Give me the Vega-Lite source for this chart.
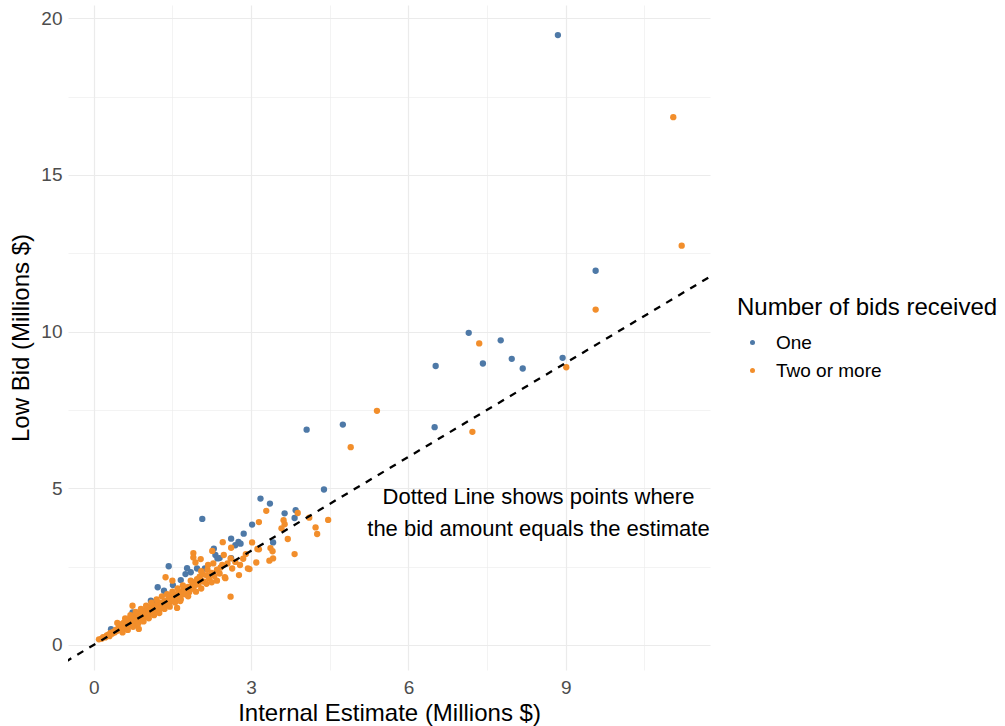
{
  "$schema": "https://vega.github.io/schema/vega-lite/v6.json",
  "width": 642,
  "height": 665,
  "autosize": {"type": "none"},
  "padding": {"left": 68, "top": 5, "right": 295, "bottom": 56},
  "background": "white",
  "config": {
    "view": {"stroke": null},
    "font": "Liberation Sans",
    "axis": {
      "labelFont": "Liberation Sans",
      "titleFont": "Liberation Sans",
      "labelColor": "#4d4d4d",
      "labelFontSize": 19,
      "titleFontSize": 24,
      "titleColor": "#000000",
      "titleFontWeight": "normal",
      "domain": false,
      "ticks": false,
      "gridColor": "#ebebeb"
    },
    "legend": {
      "titleFont": "Liberation Sans",
      "labelFont": "Liberation Sans"
    }
  },
  "datasets": {
    "bids": [
      {"estimate": 8.85, "lowbid": 19.46, "bids": "One"},
      {"estimate": 9.57, "lowbid": 11.94, "bids": "One"},
      {"estimate": 8.94, "lowbid": 9.16, "bids": "One"},
      {"estimate": 8.18, "lowbid": 8.82, "bids": "One"},
      {"estimate": 7.15, "lowbid": 9.96, "bids": "One"},
      {"estimate": 7.76, "lowbid": 9.72, "bids": "One"},
      {"estimate": 7.42, "lowbid": 8.98, "bids": "One"},
      {"estimate": 7.97, "lowbid": 9.13, "bids": "One"},
      {"estimate": 6.52, "lowbid": 8.9, "bids": "One"},
      {"estimate": 6.5, "lowbid": 6.95, "bids": "One"},
      {"estimate": 4.06, "lowbid": 6.87, "bids": "One"},
      {"estimate": 4.75, "lowbid": 7.03, "bids": "One"},
      {"estimate": 4.39, "lowbid": 4.96, "bids": "One"},
      {"estimate": 3.18, "lowbid": 4.67, "bids": "One"},
      {"estimate": 3.36, "lowbid": 4.51, "bids": "One"},
      {"estimate": 3.64, "lowbid": 4.2, "bids": "One"},
      {"estimate": 3.85, "lowbid": 4.3, "bids": "One"},
      {"estimate": 3.83, "lowbid": 4.05, "bids": "One"},
      {"estimate": 2.07, "lowbid": 4.02, "bids": "One"},
      {"estimate": 3.02, "lowbid": 3.84, "bids": "One"},
      {"estimate": 2.86, "lowbid": 3.55, "bids": "One"},
      {"estimate": 2.62, "lowbid": 3.39, "bids": "One"},
      {"estimate": 2.76, "lowbid": 3.29, "bids": "One"},
      {"estimate": 2.8, "lowbid": 3.23, "bids": "One"},
      {"estimate": 2.7, "lowbid": 3.18, "bids": "One"},
      {"estimate": 3.42, "lowbid": 3.27, "bids": "One"},
      {"estimate": 2.32, "lowbid": 2.87, "bids": "One"},
      {"estimate": 2.4, "lowbid": 2.77, "bids": "One"},
      {"estimate": 2.62, "lowbid": 2.77, "bids": "One"},
      {"estimate": 2.36, "lowbid": 2.76, "bids": "One"},
      {"estimate": 2.29, "lowbid": 3.07, "bids": "One"},
      {"estimate": 1.43, "lowbid": 2.51, "bids": "One"},
      {"estimate": 1.78, "lowbid": 2.45, "bids": "One"},
      {"estimate": 1.85, "lowbid": 2.32, "bids": "One"},
      {"estimate": 1.97, "lowbid": 2.44, "bids": "One"},
      {"estimate": 2.12, "lowbid": 2.44, "bids": "One"},
      {"estimate": 1.75, "lowbid": 2.26, "bids": "One"},
      {"estimate": 1.66, "lowbid": 2.07, "bids": "One"},
      {"estimate": 1.22, "lowbid": 1.84, "bids": "One"},
      {"estimate": 1.34, "lowbid": 1.73, "bids": "One"},
      {"estimate": 1.51, "lowbid": 1.91, "bids": "One"},
      {"estimate": 1.09, "lowbid": 1.41, "bids": "One"},
      {"estimate": 1.15, "lowbid": 1.36, "bids": "One"},
      {"estimate": 0.74, "lowbid": 1.04, "bids": "One"},
      {"estimate": 0.33, "lowbid": 0.5, "bids": "One"},
      {"estimate": 11.05, "lowbid": 16.84, "bids": "Two or more"},
      {"estimate": 11.21, "lowbid": 12.74, "bids": "Two or more"},
      {"estimate": 9.57, "lowbid": 10.7, "bids": "Two or more"},
      {"estimate": 9.01, "lowbid": 8.86, "bids": "Two or more"},
      {"estimate": 7.35, "lowbid": 9.62, "bids": "Two or more"},
      {"estimate": 7.22, "lowbid": 6.8, "bids": "Two or more"},
      {"estimate": 5.4, "lowbid": 7.47, "bids": "Two or more"},
      {"estimate": 4.9, "lowbid": 6.31, "bids": "Two or more"},
      {"estimate": 4.47, "lowbid": 3.99, "bids": "Two or more"},
      {"estimate": 4.11, "lowbid": 4.06, "bids": "Two or more"},
      {"estimate": 4.23, "lowbid": 3.75, "bids": "Two or more"},
      {"estimate": 4.26, "lowbid": 3.54, "bids": "Two or more"},
      {"estimate": 3.29, "lowbid": 4.28, "bids": "Two or more"},
      {"estimate": 3.89, "lowbid": 4.21, "bids": "Two or more"},
      {"estimate": 3.62, "lowbid": 3.98, "bids": "Two or more"},
      {"estimate": 3.64, "lowbid": 3.85, "bids": "Two or more"},
      {"estimate": 3.58, "lowbid": 3.72, "bids": "Two or more"},
      {"estimate": 3.7, "lowbid": 3.38, "bids": "Two or more"},
      {"estimate": 3.83, "lowbid": 2.9, "bids": "Two or more"},
      {"estimate": 3.15, "lowbid": 3.92, "bids": "Two or more"},
      {"estimate": 3.02, "lowbid": 3.27, "bids": "Two or more"},
      {"estimate": 3.37, "lowbid": 3.09, "bids": "Two or more"},
      {"estimate": 3.41, "lowbid": 2.99, "bids": "Two or more"},
      {"estimate": 3.15, "lowbid": 3.05, "bids": "Two or more"},
      {"estimate": 2.9, "lowbid": 2.9, "bids": "Two or more"},
      {"estimate": 3.42, "lowbid": 2.76, "bids": "Two or more"},
      {"estimate": 3.35, "lowbid": 2.69, "bids": "Two or more"},
      {"estimate": 3.1, "lowbid": 2.63, "bids": "Two or more"},
      {"estimate": 2.97, "lowbid": 2.42, "bids": "Two or more"},
      {"estimate": 2.46, "lowbid": 3.28, "bids": "Two or more"},
      {"estimate": 2.62, "lowbid": 3.1, "bids": "Two or more"},
      {"estimate": 2.26, "lowbid": 3.0, "bids": "Two or more"},
      {"estimate": 2.61, "lowbid": 2.76, "bids": "Two or more"},
      {"estimate": 3.12, "lowbid": 3.06, "bids": "Two or more"},
      {"estimate": 1.9, "lowbid": 2.93, "bids": "Two or more"},
      {"estimate": 1.94, "lowbid": 2.63, "bids": "Two or more"},
      {"estimate": 1.9, "lowbid": 2.79, "bids": "Two or more"},
      {"estimate": 2.17, "lowbid": 2.4, "bids": "Two or more"},
      {"estimate": 2.42, "lowbid": 2.47, "bids": "Two or more"},
      {"estimate": 2.64, "lowbid": 2.44, "bids": "Two or more"},
      {"estimate": 2.79, "lowbid": 2.55, "bids": "Two or more"},
      {"estimate": 2.94, "lowbid": 2.44, "bids": "Two or more"},
      {"estimate": 2.77, "lowbid": 2.23, "bids": "Two or more"},
      {"estimate": 2.51, "lowbid": 2.13, "bids": "Two or more"},
      {"estimate": 2.61, "lowbid": 1.54, "bids": "Two or more"},
      {"estimate": 1.37, "lowbid": 2.16, "bids": "Two or more"},
      {"estimate": 1.5, "lowbid": 2.05, "bids": "Two or more"},
      {"estimate": 1.72, "lowbid": 1.78, "bids": "Two or more"},
      {"estimate": 1.66, "lowbid": 1.46, "bids": "Two or more"},
      {"estimate": 1.53, "lowbid": 1.62, "bids": "Two or more"},
      {"estimate": 1.59, "lowbid": 1.18, "bids": "Two or more"},
      {"estimate": 1.75, "lowbid": 1.62, "bids": "Two or more"},
      {"estimate": 0.74, "lowbid": 1.25, "bids": "Two or more"},
      {"estimate": 1.92, "lowbid": 2.0, "bids": "Two or more"},
      {"estimate": 1.95, "lowbid": 1.92, "bids": "Two or more"},
      {"estimate": 1.97, "lowbid": 2.1, "bids": "Two or more"},
      {"estimate": 2.0, "lowbid": 1.95, "bids": "Two or more"},
      {"estimate": 2.02, "lowbid": 2.18, "bids": "Two or more"},
      {"estimate": 2.05, "lowbid": 2.05, "bids": "Two or more"},
      {"estimate": 2.08, "lowbid": 2.25, "bids": "Two or more"},
      {"estimate": 2.1, "lowbid": 2.02, "bids": "Two or more"},
      {"estimate": 2.15, "lowbid": 2.22, "bids": "Two or more"},
      {"estimate": 2.2, "lowbid": 2.12, "bids": "Two or more"},
      {"estimate": 2.25, "lowbid": 2.3, "bids": "Two or more"},
      {"estimate": 2.3, "lowbid": 2.2, "bids": "Two or more"},
      {"estimate": 2.35, "lowbid": 2.4, "bids": "Two or more"},
      {"estimate": 2.4, "lowbid": 2.28, "bids": "Two or more"},
      {"estimate": 2.45, "lowbid": 2.55, "bids": "Two or more"},
      {"estimate": 2.55, "lowbid": 2.6, "bids": "Two or more"},
      {"estimate": 2.7, "lowbid": 2.65, "bids": "Two or more"},
      {"estimate": 2.85, "lowbid": 2.75, "bids": "Two or more"},
      {"estimate": 2.28, "lowbid": 2.6, "bids": "Two or more"},
      {"estimate": 2.18, "lowbid": 2.55, "bids": "Two or more"},
      {"estimate": 2.05, "lowbid": 2.35, "bids": "Two or more"},
      {"estimate": 0.1, "lowbid": 0.18, "bids": "Two or more"},
      {"estimate": 0.15, "lowbid": 0.2, "bids": "Two or more"},
      {"estimate": 0.18, "lowbid": 0.25, "bids": "Two or more"},
      {"estimate": 0.22, "lowbid": 0.24, "bids": "Two or more"},
      {"estimate": 0.25, "lowbid": 0.3, "bids": "Two or more"},
      {"estimate": 0.28, "lowbid": 0.33, "bids": "Two or more"},
      {"estimate": 0.3, "lowbid": 0.28, "bids": "Two or more"},
      {"estimate": 0.32, "lowbid": 0.38, "bids": "Two or more"},
      {"estimate": 0.35, "lowbid": 0.36, "bids": "Two or more"},
      {"estimate": 0.38, "lowbid": 0.42, "bids": "Two or more"},
      {"estimate": 0.4, "lowbid": 0.4, "bids": "Two or more"},
      {"estimate": 0.42, "lowbid": 0.48, "bids": "Two or more"},
      {"estimate": 0.45, "lowbid": 0.45, "bids": "Two or more"},
      {"estimate": 0.47, "lowbid": 0.52, "bids": "Two or more"},
      {"estimate": 0.48, "lowbid": 0.58, "bids": "Two or more"},
      {"estimate": 0.5, "lowbid": 0.5, "bids": "Two or more"},
      {"estimate": 0.52, "lowbid": 0.62, "bids": "Two or more"},
      {"estimate": 0.53, "lowbid": 0.55, "bids": "Two or more"},
      {"estimate": 0.55, "lowbid": 0.68, "bids": "Two or more"},
      {"estimate": 0.57, "lowbid": 0.6, "bids": "Two or more"},
      {"estimate": 0.58, "lowbid": 0.72, "bids": "Two or more"},
      {"estimate": 0.6, "lowbid": 0.55, "bids": "Two or more"},
      {"estimate": 0.62, "lowbid": 0.65, "bids": "Two or more"},
      {"estimate": 0.63, "lowbid": 0.78, "bids": "Two or more"},
      {"estimate": 0.65, "lowbid": 0.7, "bids": "Two or more"},
      {"estimate": 0.67, "lowbid": 0.62, "bids": "Two or more"},
      {"estimate": 0.68, "lowbid": 0.82, "bids": "Two or more"},
      {"estimate": 0.7, "lowbid": 0.75, "bids": "Two or more"},
      {"estimate": 0.72, "lowbid": 0.68, "bids": "Two or more"},
      {"estimate": 0.73, "lowbid": 0.88, "bids": "Two or more"},
      {"estimate": 0.75, "lowbid": 0.8, "bids": "Two or more"},
      {"estimate": 0.77, "lowbid": 0.72, "bids": "Two or more"},
      {"estimate": 0.78, "lowbid": 0.92, "bids": "Two or more"},
      {"estimate": 0.8, "lowbid": 0.85, "bids": "Two or more"},
      {"estimate": 0.8, "lowbid": 0.67, "bids": "Two or more"},
      {"estimate": 0.82, "lowbid": 0.78, "bids": "Two or more"},
      {"estimate": 0.85, "lowbid": 0.95, "bids": "Two or more"},
      {"estimate": 0.86, "lowbid": 0.51, "bids": "Two or more"},
      {"estimate": 0.87, "lowbid": 0.88, "bids": "Two or more"},
      {"estimate": 0.88, "lowbid": 1.0, "bids": "Two or more"},
      {"estimate": 0.9, "lowbid": 0.82, "bids": "Two or more"},
      {"estimate": 0.92, "lowbid": 1.05, "bids": "Two or more"},
      {"estimate": 0.93, "lowbid": 0.92, "bids": "Two or more"},
      {"estimate": 0.95, "lowbid": 0.98, "bids": "Two or more"},
      {"estimate": 0.97, "lowbid": 0.88, "bids": "Two or more"},
      {"estimate": 0.98, "lowbid": 1.1, "bids": "Two or more"},
      {"estimate": 1.0, "lowbid": 1.02, "bids": "Two or more"},
      {"estimate": 1.02, "lowbid": 0.95, "bids": "Two or more"},
      {"estimate": 1.03, "lowbid": 1.15, "bids": "Two or more"},
      {"estimate": 1.05, "lowbid": 1.08, "bids": "Two or more"},
      {"estimate": 1.07, "lowbid": 1.0, "bids": "Two or more"},
      {"estimate": 1.08, "lowbid": 1.2, "bids": "Two or more"},
      {"estimate": 1.1, "lowbid": 1.12, "bids": "Two or more"},
      {"estimate": 1.12, "lowbid": 1.05, "bids": "Two or more"},
      {"estimate": 1.13, "lowbid": 1.25, "bids": "Two or more"},
      {"estimate": 1.15, "lowbid": 1.18, "bids": "Two or more"},
      {"estimate": 1.18, "lowbid": 1.1, "bids": "Two or more"},
      {"estimate": 1.2, "lowbid": 1.28, "bids": "Two or more"},
      {"estimate": 1.22, "lowbid": 1.22, "bids": "Two or more"},
      {"estimate": 1.25, "lowbid": 1.15, "bids": "Two or more"},
      {"estimate": 1.27, "lowbid": 1.35, "bids": "Two or more"},
      {"estimate": 1.3, "lowbid": 1.3, "bids": "Two or more"},
      {"estimate": 1.32, "lowbid": 1.22, "bids": "Two or more"},
      {"estimate": 1.35, "lowbid": 1.4, "bids": "Two or more"},
      {"estimate": 1.37, "lowbid": 1.33, "bids": "Two or more"},
      {"estimate": 1.4, "lowbid": 1.28, "bids": "Two or more"},
      {"estimate": 1.42, "lowbid": 1.45, "bids": "Two or more"},
      {"estimate": 1.45, "lowbid": 1.38, "bids": "Two or more"},
      {"estimate": 1.47, "lowbid": 1.55, "bids": "Two or more"},
      {"estimate": 1.5, "lowbid": 1.48, "bids": "Two or more"},
      {"estimate": 1.52, "lowbid": 1.4, "bids": "Two or more"},
      {"estimate": 1.55, "lowbid": 1.6, "bids": "Two or more"},
      {"estimate": 1.57, "lowbid": 1.52, "bids": "Two or more"},
      {"estimate": 1.6, "lowbid": 1.45, "bids": "Two or more"},
      {"estimate": 1.62, "lowbid": 1.65, "bids": "Two or more"},
      {"estimate": 1.65, "lowbid": 1.58, "bids": "Two or more"},
      {"estimate": 1.67, "lowbid": 1.7, "bids": "Two or more"},
      {"estimate": 1.7, "lowbid": 1.62, "bids": "Two or more"},
      {"estimate": 1.77, "lowbid": 1.72, "bids": "Two or more"},
      {"estimate": 1.8, "lowbid": 1.85, "bids": "Two or more"},
      {"estimate": 1.82, "lowbid": 1.68, "bids": "Two or more"},
      {"estimate": 1.85, "lowbid": 1.78, "bids": "Two or more"},
      {"estimate": 1.88, "lowbid": 1.9, "bids": "Two or more"},
      {"estimate": 1.9, "lowbid": 1.82, "bids": "Two or more"},
      {"estimate": 2.48, "lowbid": 2.87, "bids": "Two or more"},
      {"estimate": 2.04, "lowbid": 2.74, "bids": "Two or more"},
      {"estimate": 2.5, "lowbid": 2.16, "bids": "Two or more"},
      {"estimate": 0.45, "lowbid": 0.7, "bids": "Two or more"},
      {"estimate": 0.55, "lowbid": 0.4, "bids": "Two or more"},
      {"estimate": 0.6, "lowbid": 0.85, "bids": "Two or more"},
      {"estimate": 0.65, "lowbid": 0.48, "bids": "Two or more"},
      {"estimate": 0.7, "lowbid": 0.95, "bids": "Two or more"},
      {"estimate": 0.75, "lowbid": 0.58, "bids": "Two or more"},
      {"estimate": 0.8, "lowbid": 1.05, "bids": "Two or more"},
      {"estimate": 0.85, "lowbid": 0.68, "bids": "Two or more"},
      {"estimate": 0.9, "lowbid": 1.15, "bids": "Two or more"},
      {"estimate": 0.95, "lowbid": 0.75, "bids": "Two or more"},
      {"estimate": 1.0, "lowbid": 1.25, "bids": "Two or more"},
      {"estimate": 1.05, "lowbid": 0.85, "bids": "Two or more"},
      {"estimate": 1.1, "lowbid": 1.35, "bids": "Two or more"},
      {"estimate": 1.15, "lowbid": 0.95, "bids": "Two or more"},
      {"estimate": 1.2, "lowbid": 1.45, "bids": "Two or more"},
      {"estimate": 1.25, "lowbid": 1.02, "bids": "Two or more"},
      {"estimate": 1.3, "lowbid": 1.55, "bids": "Two or more"},
      {"estimate": 1.35, "lowbid": 1.15, "bids": "Two or more"},
      {"estimate": 1.4, "lowbid": 1.62, "bids": "Two or more"},
      {"estimate": 1.45, "lowbid": 1.22, "bids": "Two or more"},
      {"estimate": 1.5, "lowbid": 1.7, "bids": "Two or more"},
      {"estimate": 1.55, "lowbid": 1.35, "bids": "Two or more"},
      {"estimate": 1.6, "lowbid": 1.8, "bids": "Two or more"},
      {"estimate": 1.65, "lowbid": 1.4, "bids": "Two or more"},
      {"estimate": 1.7, "lowbid": 1.9, "bids": "Two or more"},
      {"estimate": 1.8, "lowbid": 1.55, "bids": "Two or more"},
      {"estimate": 1.85, "lowbid": 2.05, "bids": "Two or more"},
      {"estimate": 1.95, "lowbid": 1.7, "bids": "Two or more"},
      {"estimate": 2.05, "lowbid": 1.8, "bids": "Two or more"},
      {"estimate": 2.15, "lowbid": 1.95, "bids": "Two or more"},
      {"estimate": 2.25, "lowbid": 2.0, "bids": "Two or more"},
      {"estimate": 2.35, "lowbid": 2.05, "bids": "Two or more"}
    ],
    "refline": [
      {"estimate": -1, "lowbid": -1},
      {"estimate": 13, "lowbid": 13}
    ],
    "note": [
      {"estimate": 8.48, "lowbid": 4.72, "label": "Dotted Line shows points where \nthe bid amount equals the estimate"}
    ]
  },
  "layer": [
    {
      "data": {"name": "bids"},
      "mark": {"type": "circle", "size": 40, "opacity": 1},
      "encoding": {
        "x": {
          "field": "estimate",
          "type": "quantitative",
          "title": "Internal Estimate (Millions $)",
          "scale": {"domain": [-0.49, 11.75], "nice": false, "zero": false},
          "axis": {
            "values": [0, 1.5, 3, 4.5, 6, 7.5, 9, 10.5],
            "labelExpr": "datum.value % 3 === 0 ? datum.label : ''",
            "gridWidth": {"condition": {"test": "datum.value % 3 === 0", "value": 1.2}, "value": 0.6},
            "labelPadding": 8,
            "titlePadding": 4
          }
        },
        "y": {
          "field": "lowbid",
          "type": "quantitative",
          "title": "Low Bid (Millions $)",
          "scale": {"domain": [-0.8, 20.42], "nice": false, "zero": false},
          "axis": {
            "values": [0, 2.5, 5, 7.5, 10, 12.5, 15, 17.5, 20],
            "labelExpr": "datum.value % 5 === 0 ? datum.label : ''",
            "gridWidth": {"condition": {"test": "datum.value % 5 === 0", "value": 1.2}, "value": 0.6},
            "labelPadding": 6,
            "titlePadding": 7
          }
        },
        "color": {
          "field": "bids",
          "type": "nominal",
          "scale": {"domain": ["One", "Two or more"], "range": ["#4e79a7", "#f28e2b"]},
          "legend": {
            "title": "Number of bids received",
            "orient": "none",
            "legendX": 669,
            "legendY": 291,
            "titleFontSize": 24,
            "titleFontWeight": "normal",
            "titleColor": "#000000",
            "titleLimit": 400,
            "labelFontSize": 19,
            "labelColor": "#000000",
            "labelLimit": 300,
            "symbolType": "circle",
            "symbolSize": 25,
            "symbolOffset": 6,
            "labelOffset": 14,
            "rowPadding": 8,
            "titlePadding": 13
          }
        }
      }
    },
    {
      "data": {"name": "refline"},
      "mark": {"type": "line", "color": "#000000", "strokeWidth": 2.3, "strokeDash": [7, 7], "clip": true},
      "encoding": {
        "x": {"field": "estimate", "type": "quantitative"},
        "y": {"field": "lowbid", "type": "quantitative"}
      }
    },
    {
      "data": {"name": "note"},
      "mark": {"type": "text", "fontSize": 22, "font": "Liberation Sans", "color": "#000000", "align": "center", "baseline": "middle", "lineBreak": "\n", "lineHeight": 32},
      "encoding": {
        "x": {"field": "estimate", "type": "quantitative"},
        "y": {"field": "lowbid", "type": "quantitative"},
        "text": {"field": "label"}
      }
    }
  ]
}
